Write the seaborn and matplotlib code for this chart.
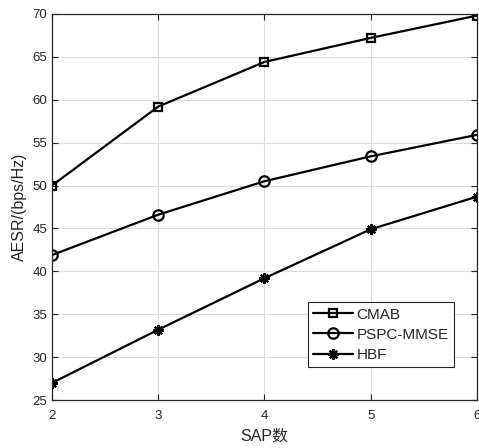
import matplotlib
matplotlib.use("Agg")
import matplotlib.pyplot as plt
import seaborn as sns
import pandas as pd

sap = [2, 3, 4, 5, 6]
cmab = [50.0, 59.2, 64.4, 67.2, 69.8]
pspc = [41.9, 46.6, 50.5, 53.4, 55.9]
hbf = [27.0, 33.2, 39.2, 44.9, 48.7]
series_names = ["CMAB", "PSPC-MMSE", "HBF"]
xticks = [2, 3, 4, 5, 6]
yticks = [25, 30, 35, 40, 45, 50, 55, 60, 65, 70]

sns.set_theme(style="whitegrid")
plt.rcParams['font.family'] = ['Liberation Sans', 'Noto Sans CJK SC', 'DejaVu Sans']

df = pd.DataFrame({
    "x": sap * 3,
    "y": cmab + pspc + hbf,
    "s": [series_names[0]] * 5 + [series_names[1]] * 5 + [series_names[2]] * 5,
})

fig = plt.figure(figsize=(4.79, 4.48), dpi=100)
ax = fig.add_axes([0.1086, 0.107, 0.887, 0.862])

markers = {"CMAB": "s", "PSPC-MMSE": "o", "HBF": (8, 2, 0)}
sizes = {"CMAB": 6, "PSPC-MMSE": 7.5, "HBF": 7.5}
for n in series_names:
    sub = df[df["s"] == n]
    sns.lineplot(data=sub, x="x", y="y", ax=ax, color="black", marker=markers[n],
                 markersize=sizes[n], markerfacecolor="none", markeredgecolor="black",
                 markeredgewidth=1.6, linewidth=1.6, label=n)

ax.set_xlim(2, 6)
ax.set_ylim(25, 70)
ax.set_xticks(xticks)
ax.set_yticks(yticks)
ax.set_facecolor("white")
ax.grid(True, color="#dcdcdc", linewidth=0.8)
for sp in ax.spines.values():
    sp.set_visible(True)
    sp.set_color("#262626")
    sp.set_linewidth(0.9)
ax.tick_params(axis="both", which="both", direction="in", length=4, width=0.8,
               colors="#262626", labelsize=9.5, top=True, right=True, left=True, bottom=True,
               labeltop=False, labelright=False)
for lab in ax.get_xticklabels() + ax.get_yticklabels():
    lab.set_color("#262626")
ax.tick_params(axis="x", pad=7)
ax.set_xlabel("SAP数", fontsize=11.5, color="#262626", labelpad=5)
ax.set_ylabel("AESR/(bps/Hz)", fontsize=11.5, color="#262626", labelpad=4)

leg = ax.legend(loc="lower left", bbox_to_anchor=(0.602, 0.085), fontsize=11,
                frameon=True, fancybox=False, edgecolor="#262626", framealpha=1,
                handlelength=2.6, handletextpad=0.25, borderpad=0.35, labelspacing=0.4,
                borderaxespad=0)
leg.get_frame().set_linewidth(0.8)

fig.savefig("out.png", dpi=100)
